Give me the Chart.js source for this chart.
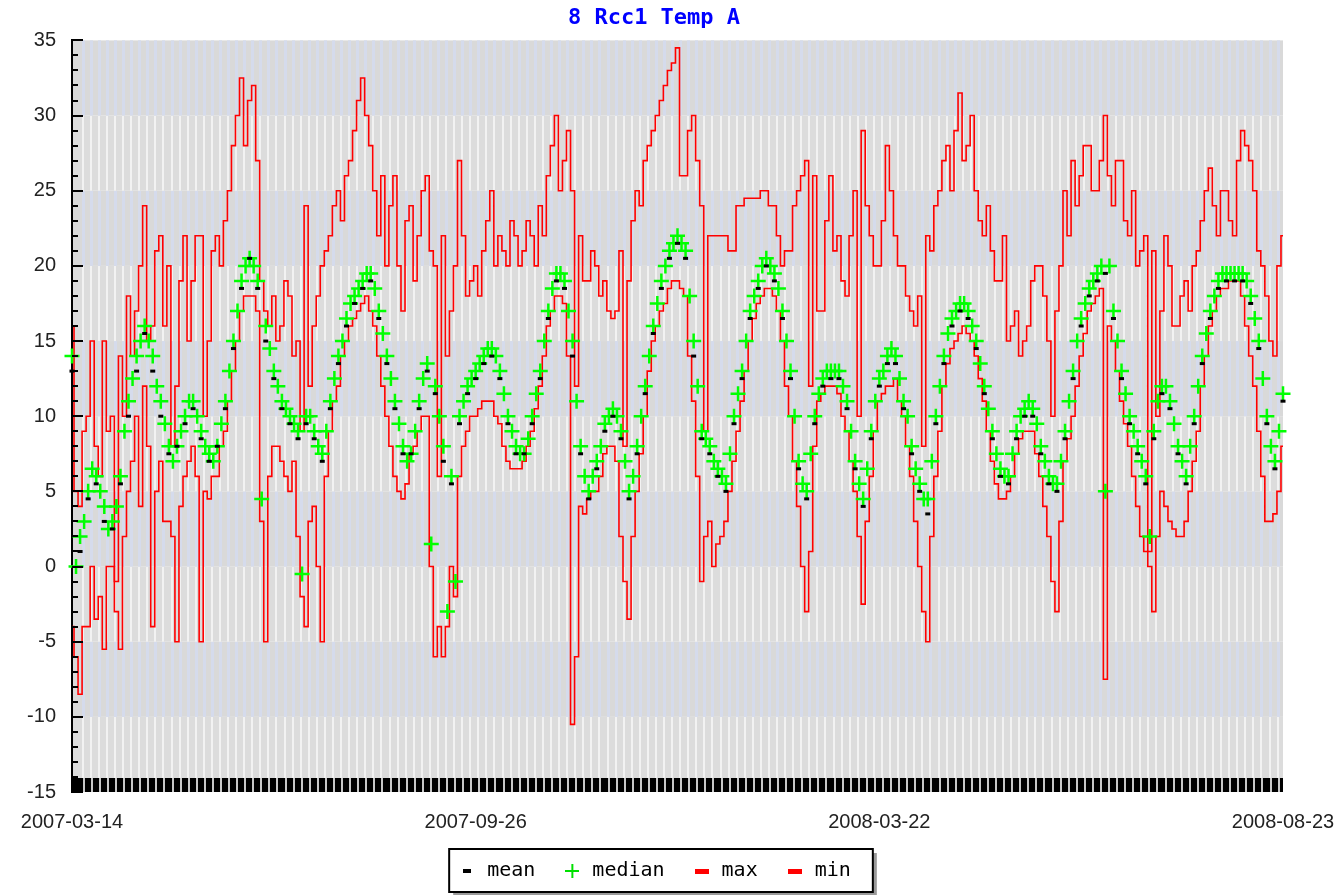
<!DOCTYPE html>
<html><head><meta charset="utf-8">
<script src="https://cdn.jsdelivr.net/npm/chart.js@4.4.1/dist/chart.umd.min.js"></script>
<style>html,body{margin:0;padding:0;background:#fff}#wrap{width:1342px;height:895px;position:relative}</style>
</head><body><div id="wrap"><canvas id="c"></canvas></div>
<script>
const titleText = '8 Rcc1 Temp A';
const tickLabels = ['2007-03-14', '2007-09-26', '2008-03-22', '2008-08-23'];
const seriesNames = ['mean', 'median', 'max', 'min'];

const meanVals = [
 13,1,4.5,5.5,3,2.5,5.5,10,13,15.5,
 13,10,7.5,8,9.5,10.5,8.5,7,8,10.5,
 14.5,18.5,20.5,18.5,15,12.5,10.5,9.5,8.5,9.5,
 8.5,7,10.5,13.5,16,17.5,18.5,19,16.5,13.5,
 10.5,7.5,7.5,10.5,13,11.5,7,5.5,9.5,11.5,
 12.5,13.5,14,12.5,9.5,7.5,7.5,9.5,12.5,16.5,
 19,18.5,14,7.5,4.5,6.5,9,10,8.5,4.5,
 7.5,11.5,15.5,18.5,20.5,21.5,20.5,14,8.5,7.5,
 6,5,9.5,12.5,16.5,18.5,20,19,16.5,12.5,
 6.5,4.5,9.5,12,12.5,12.5,10.5,6.5,4,8.5,
 12,13.5,13.5,10.5,7.5,5,3.5,9.5,13.5,16,
 17,16.5,14.5,11.5,8.5,6,5.5,8.5,10,10,
 7.5,5.5,5,8.5,12.5,16,18,19,19.5,16.5,
 12.5,9.5,7.5,5.5,8.5,11.5,10.5,7.5,5.5,9.5,
 13.5,16.5,18.5,19,19,19,17.5,14.5,9.5,6.5,11
];
const medianVals = [
 14,0, 2,3, 5,6.5, 6,5, 4,2.5,
 3,4, 6,9, 11,12.5, 14,15, 16,15,
 14,12, 11,9.5, 8,7, 8,9, 10,11,
 11,10, 9,8, 7.5,7, 8,9.5, 11,13,
 15,17, 19,20, 20.5,20, 19,4.5, 16,14.5,
 13,12, 11,10.5, 10,9.5, 9,-0.5, 10,10,
 9,8, 7.5,9, 11,12.5, 14,15, 16.5,17.5,
 18,18.5, 19,19.5, 19.5,18.5, 17,15.5, 14,12.5,
 11,9.5, 8,7, 7.5,9, 11,12.5, 13.5,1.5,
 12,10, 8,-3, 6,-1, 10,11, 12,12.5,
 13,13.5, 14,14.5, 14.5,14, 13,11.5, 10,9,
 8,7.5, 7.5,8.5, 10,11.5, 13,15, 17,18.5,
 19.5,19.5, 19,17, 15,11, 8,6, 5,6,
 7,8, 9.5,10, 10.5,10, 9,7, 5,6,
 8,10, 12,14, 16,17.5, 19,20, 21,21.5,
 22,21.5, 21,18, 15,12, 9,8.5, 8,7,
 6.5,6, 5.5,7.5, 10,11.5, 13,15, 17,18,
 19,20, 20.5,20, 19.5,18.5, 17,15, 13,10,
 7,5.5, 5,7.5, 10,11.5, 12.5,13, 13,13,
 13,12, 11,9, 7,5.5, 4.5,6.5, 9,11,
 12.5,13, 14,14.5, 14,12.5, 11,10, 8,6.5,
 5.5,4.5, 4.5,7, 10,12, 14,15.5, 16.5,17,
 17.5,17.5, 17,16, 15,13.5, 12,10.5, 9,7.5,
 6.5,6, 6,7.5, 9,10, 10.5,11, 10.5,9.5,
 8,7, 6,5.5, 5.5,7, 9,11, 13,15,
 16.5,17.5, 18.5,19, 19.5,20, 5,20, 17,15,
 13,11.5, 10,9, 8,7, 6,2, 9,11,
 12,12, 11,9.5, 8,7, 6,8, 10,12,
 14,15.5, 17,18, 19,19.5, 19.5,19.5, 19.5,19.5,
 19.5,19, 18,16.5, 15,12.5, 10,8, 7,9,
 11.5
];
const maxVals = [
 16,5, 4,9, 10,15, 8,6, 15,9,
 10,-1, 14,10, 18,14, 17,20, 24,15,
 16,21, 22,16, 20,8, 12,19, 22,15,
 19,22, 22,10, 15,21, 22,20, 23,25,
 28,30, 32.5,28, 31,32, 27,19, 17,16,
 18,15, 16,19, 18,14, 15,9, 24,12,
 16,18, 20,21, 22,24, 25,23, 26,27,
 29,31, 32.5,30, 28,25, 22,26, 20,24,
 26,20, 17,23, 24,19, 22,25, 26,21,
 20,6, 22,14, 17,20, 27,22, 18,19,
 20,18, 21,23, 25,20, 22,21, 20,23,
 22,20, 21,23, 22,20, 24,22, 26,28,
 30,25, 27,29, 25,12, 22,19, 19,21,
 20,18, 19,17, 16.5,17, 21,8, 19,23,
 25,24, 27,28, 29,30, 31,32, 33,33.5,
 34.5,26, 26,29, 30,27, 24,9, 22,22,
 22,22, 22,21, 21,24, 24,24.5, 24.5,24.5,
 24.5,25, 25,24, 24,22, 20,21, 21,24,
 25,26, 27,12, 26,17, 17,23, 26,21,
 22,19, 18,22, 25,10, 29,24, 22,20,
 20,23, 28,25, 22,20, 20,18, 17,16,
 18,8, 22,21, 24,25, 27,28, 25,29,
 31.5,27, 28,30, 25,23, 22,24, 21,19,
 19,22, 15,16, 17,14, 15,16, 19,20,
 20,18, 15,10, 17,20, 25,22, 27,24,
 26,28, 28,25, 25,27, 30,26, 24,27,
 27,23, 22,25, 20,21, 22,1, 21,10,
 17,22, 20,16, 16,18, 19,17, 20,21,
 23,25, 26.5,24, 22,25, 25,23, 22,27,
 29,28, 27,25, 21,20, 18,15, 14,20,
 22
];
const minVals = [
 -4,-6, -8.5,-4, -4,0, -3.5,-2, -5.5,0,
 0,-3, -5.5,2, 5,7, 10,4, 12,8,
 -4,5, 7,3, 3,2, -5,4, 6,7,
 8,6, -5,5, 4.5,6, 6,8, 9,11,
 13,15, 17,18, 18,18, 17,3, -5,6,
 8,8, 7,6, 5,7, 2,-2, -4,3,
 4,0, -5,6, 9,11, 12,14, 15,16,
 16.5,17, 17.5,18, 17,16, 14,12, 10,8,
 6,5, 4.5,5.5, 7.5,8, 9,10, 10,0,
 -6,-4, -6,-4, 0,-2, 6,8, 9,10,
 10,10.5, 11,11, 11,10, 9.5,8, 7,6.5,
 6.5,6.5, 7,8, 9,10.5, 12,14, 16,17,
 18,18, 17.5,14, -10.5,-6, 4,3.5, 4.5,5,
 5,6, 7.5,8, 8,7, 2,-1, -3.5,2,
 5,7.5, 10,13, 15,16, 17,17.5, 18.5,19,
 19,18.5, 18,14, 11,6, -1,2, 3,0,
 1.5,2, 3,5, 7,9, 11,13, 15,16.5,
 17.5,18, 18.5,18.5, 18,17, 15,12, 10,7,
 4,0, -3,1, 8,11, 11.5,12, 12,12,
 11.5,10, 9,7, 5,2, -2.5,3, 6,9,
 11,11.5, 12,12, 12.5,11, 10,8, 6,3,
 0,-3, -5,2, 6,9, 12,13.5, 14.5,15,
 15.5,16, 15.5,15, 14,12.5, 11,9, 7,5.5,
 4.5,4.5, 5,6, 7.5,8.5, 9,9, 9,7.5,
 6,4, 2,-1, -3,3, 7,8.5, 10,12,
 14,15.5, 17,17.5, 18,18.5, -7.5,16, 15,13,
 11,9.5, 8,6, 4,2, 1,0, -3,2,
 5,4, 3,2.5, 2,2, 3,5, 7,9,
 12,14, 16,17, 18,18.5, 18.5,19, 19,19,
 18,16, 14,12, 9,6, 3,3, 3.5,5,
 8
];

const yMin = -15, yMax = 35, yStep = 5;
const lastIndex = meanVals.length - 1;
const tickEvery = lastIndex / (tickLabels.length - 1);
const pts = vals => {
  const r = lastIndex / (vals.length - 1);
  return vals.map((v, i) => ({x: i * r, y: v}));
};

function symbol(kind, color) {
  const c = document.createElement('canvas');
  const g = c.getContext('2d');
  if (kind === 'plus') {
    c.width = 14; c.height = 14;
    g.fillStyle = color;
    g.fillRect(0, 6, 14, 2);
    g.fillRect(6, 0, 2, 14);
  } else if (kind === 'short') {
    c.width = 8; c.height = 4;
    g.fillStyle = color; g.fillRect(0, 0, 8, 4);
  } else {
    c.width = 14; c.height = 5;
    g.fillStyle = color; g.fillRect(0, 0, 14, 5);
  }
  return c;
}
const legendSymbols = [symbol('short', '#000'), symbol('plus', '#00e000'), symbol('long', '#ff0000'), symbol('long', '#ff0000')];

const bgPlugin = {
  id: 'bg',
  beforeDraw(chart) {
    const {ctx, chartArea: a, scales: {x, y}} = chart;
    ctx.save();
    let k = 0;
    for (let v = yMin; v < yMax; v += yStep, k++) {
      const top = y.getPixelForValue(v + yStep), bot = y.getPixelForValue(v);
      const dark = k % 2 === 1;
      ctx.fillStyle = dark ? '#d9d9d9' : '#dcdcdc';
      ctx.fillRect(a.left, top, a.right - a.left, bot - top);
      ctx.fillStyle = dark ? '#d5dbec' : '#f2f2f2';
      for (let i = 1; i < lastIndex; i++) {
        const px = x.getPixelForValue(i + 0.33);
        ctx.fillRect(Math.round(px) - 1, top, dark ? 3 : 2, bot - top);
      }
    }
    const by = y.getPixelForValue(yMin);
    ctx.fillStyle = '#000';
    ctx.fillRect(a.left, by - 14, a.right - a.left, 14);
    ctx.fillStyle = '#c8c8c8';
    for (let i = 1; i < lastIndex; i++) {
      const px = x.getPixelForValue(i + 0.33);
      ctx.fillRect(Math.round(px), by - 14, 2, 14);
    }
    const lg = chart.legend;
    if (lg && lg.legendHitBoxes && lg.legendHitBoxes.length) {
      const hb = lg.legendHitBoxes;
      const l = hb[0].left - 8;
      const r = hb[hb.length - 1].left + hb[hb.length - 1].width + 22;
      const cy = hb[0].top + hb[0].height / 2;
      const t = cy - 22, b = cy + 21;
      ctx.fillStyle = '#9a9a9a';
      ctx.fillRect(l + 4, t + 4, r - l, b - t);
      ctx.fillStyle = '#fff';
      ctx.fillRect(l, t, r - l, b - t);
      ctx.strokeStyle = '#000';
      ctx.lineWidth = 2;
      ctx.strokeRect(l, t, r - l, b - t);
    }
    ctx.restore();
  }
};

const axisTickPlugin = {
  id: 'axisTicks',
  afterDatasetsDraw(chart) {
    const {ctx, chartArea: a, scales: {y}} = chart;
    ctx.save();
    ctx.strokeStyle = '#000';
    ctx.lineWidth = 2;
    for (let v = yMin; v <= yMax; v += 1) {
      const py = Math.round(y.getPixelForValue(v));
      const len = (v % yStep === 0) ? 11 : 6;
      ctx.beginPath();
      ctx.moveTo(a.left, py);
      ctx.lineTo(a.left + len, py);
      ctx.stroke();
    }
    ctx.restore();
  }
};

new Chart(document.getElementById('c'), {
  type: 'line',
  data: {
    datasets: [
      {label: seriesNames[0], data: pts(meanVals), showLine: false, pointStyle: 'line', pointRadius: 2.5, pointBorderWidth: 3, borderColor: '#000', backgroundColor: '#000', clip: false},
      {label: seriesNames[1], data: pts(medianVals), showLine: false, pointStyle: 'cross', pointRadius: 7.5, pointBorderWidth: 2.5, borderColor: '#00ff00', backgroundColor: '#00ff00', clip: false},
      {label: seriesNames[2], data: pts(maxVals), stepped: 'middle', borderColor: '#ff0000', borderWidth: 1.6, pointRadius: 0, fill: false},
      {label: seriesNames[3], data: pts(minVals), stepped: 'middle', borderColor: '#ff0000', borderWidth: 1.6, pointRadius: 0, fill: false}
    ]
  },
  options: {
    responsive: true,
    maintainAspectRatio: false,
    animation: false,
    events: [],
    layout: {padding: {left: 25, right: 59, top: 0, bottom: 4}},
    scales: {
      x: {
        type: 'linear', min: 0, max: lastIndex,
        grid: {display: false, drawTicks: false},
        border: {display: false},
        ticks: {
          stepSize: tickEvery, autoSkip: false, maxRotation: 0, padding: 18,
          color: '#222', font: {family: 'Liberation Sans', size: 20},
          callback: v => { const k = Math.round(v / tickEvery); return tickLabels[k] ?? ''; }
        },
        afterFit(s) { s.paddingLeft = 0; s.paddingRight = 0; s.height = 42; }
      },
      y: {
        min: yMin, max: yMax,
        grid: {display: false, drawTicks: false},
        border: {display: true, color: '#000', width: 2},
        ticks: {stepSize: yStep, padding: 16, color: '#222', font: {family: 'Liberation Sans', size: 20}},
        afterFit(s) { s.width = 47; }
      }
    },
    plugins: {
      title: {
        display: true, text: titleText, color: '#0000ff',
        font: {family: 'DejaVu Sans Mono', size: 22, weight: 'bold'},
        padding: {top: 5, bottom: 9}
      },
      legend: {
        display: true, position: 'bottom',
        labels: {
          usePointStyle: true, boxWidth: 20, boxHeight: 20, padding: 27,
          color: '#111', font: {family: 'DejaVu Sans Mono', size: 20},
          generateLabels: chart => chart.data.datasets.map((ds, i) => ({
            text: ds.label, pointStyle: legendSymbols[i], fillStyle: ds.borderColor,
            strokeStyle: ds.borderColor, lineWidth: 0, hidden: false, datasetIndex: i
          }))
        }
      },
      tooltip: {enabled: false}
    }
  },
  plugins: [bgPlugin, axisTickPlugin]
});
</script>
</body></html>
